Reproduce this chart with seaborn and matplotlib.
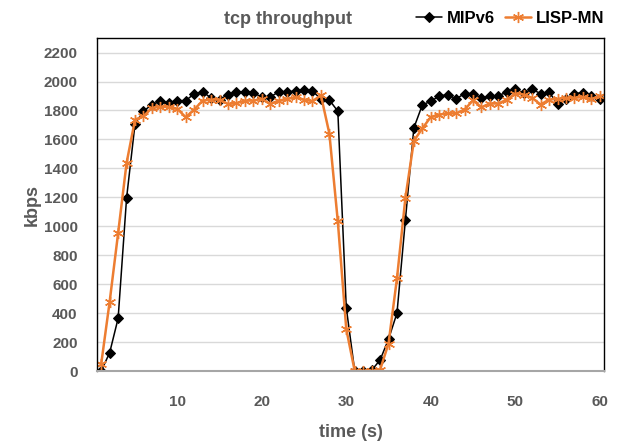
import numpy as np
import pandas as pd
import matplotlib
matplotlib.use("Agg")
import matplotlib.pyplot as plt
import seaborn as sns

### data
time_s = list(range(1, 61))
mipv6 = [0, 127, 364, 1195, 1707, 1795, 1841, 1864, 1853, 1868,
         1868, 1915, 1929, 1887, 1875, 1910, 1929, 1929, 1922, 1893,
         1893, 1929, 1929, 1933, 1940, 1933, 1880, 1872, 1795, 438,
         0, 0, 5, 76, 220, 400, 1045, 1680, 1838, 1864,
         1899, 1910, 1880, 1917, 1917, 1887, 1899, 1903, 1926, 1945,
         1922, 1945, 1917, 1926, 1848, 1880, 1917, 1922, 1903, 1880]
lisp_mn = [50, 480, 953, 1437, 1737, 1760, 1818, 1825, 1825, 1812,
           1753, 1806, 1868, 1875, 1875, 1845, 1850, 1868, 1868, 1880,
           1845, 1868, 1880, 1890, 1875, 1864, 1905, 1640, 1033, 290,
           0, 0, 0, 8, 190, 640, 1197, 1590, 1676, 1755,
           1772, 1780, 1780, 1806, 1870, 1822, 1848, 1848, 1875, 1917,
           1910, 1887, 1841, 1875, 1880, 1887, 1887, 1893, 1880, 1898]
y_ticks = list(range(0, 2201, 200))
x_ticks = [10, 20, 30, 40, 50, 60]

df = pd.DataFrame({"time": time_s, "MIPv6": mipv6, "LISP-MN": lisp_mn})

sns.set_style("white")
plt.rcParams["font.family"] = ["Liberation Sans", "DejaVu Sans"]
plt.rcParams["font.weight"] = "bold"

txt = "#595959"
orange = "#ED7D31"

fig = plt.figure(figsize=(6.23, 4.43), dpi=100)
ax = fig.add_axes([0.1557, 0.1625, 0.8138, 0.7515])

sns.lineplot(data=df, x="time", y="MIPv6", ax=ax, color="black", lw=1.1,
             marker="D", markersize=5.5, markeredgecolor="black", label="MIPv6")
sns.lineplot(data=df, x="time", y="LISP-MN", ax=ax, color=orange, lw=1.8,
             marker=(6, 2, 0), markersize=8, markeredgecolor=orange,
             markeredgewidth=1.0, label="LISP-MN")

ax.set_xlim(0.5, 60.5)
ax.set_ylim(0, 2300)
ax.set_yticks(y_ticks)
ax.set_xticks(x_ticks)
ax.grid(axis="y", color="#d9d9d9", lw=1)
ax.set_axisbelow(True)
ax.tick_params(axis="both", length=0, labelsize=11, labelcolor=txt)
ax.tick_params(axis="x", pad=17)
ax.tick_params(axis="y", pad=14)
for lab in ax.get_xticklabels() + ax.get_yticklabels():
    lab.set_fontweight("bold")

for side in ["left", "top", "right"]:
    ax.spines[side].set_color("black")
    ax.spines[side].set_linewidth(1.0)
ax.spines["bottom"].set_color("#a6a6a6")
ax.spines["bottom"].set_linewidth(1.5)

ax.set_xlabel("time (s)", fontsize=13, color=txt, fontweight="bold", labelpad=11)
ax.set_ylabel("kbps", fontsize=13, color=txt, fontweight="bold", labelpad=2)

fig.text(0.462, 0.955, "tcp throughput", ha="center", va="center",
         fontsize=13, color=txt, fontweight="bold")

ax.legend(loc="center right", bbox_to_anchor=(1.0, 1.058), ncol=2, frameon=False,
          fontsize=12, handlelength=1.6, handletextpad=0.25, columnspacing=0.6,
          borderaxespad=0, borderpad=0, labelcolor="black")

fig.savefig("out.png", dpi=100)
